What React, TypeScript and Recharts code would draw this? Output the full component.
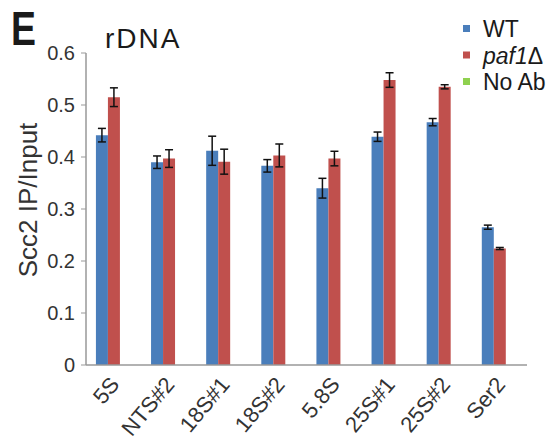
import { Bar, BarChart, ErrorBar, XAxis, YAxis } from "recharts";

const sites = ["5S", "NTS#2", "18S#1", "18S#2", "5.8S", "25S#1", "25S#2", "Ser2"];
const wt = [0.442, 0.39, 0.412, 0.383, 0.34, 0.439, 0.467, 0.265];
const wtErr = [0.013, 0.012, 0.028, 0.012, 0.019, 0.009, 0.007, 0.004];
const paf1 = [0.515, 0.397, 0.391, 0.403, 0.397, 0.548, 0.535, 0.224];
const paf1Err = [0.018, 0.017, 0.024, 0.022, 0.014, 0.014, 0.004, 0.002];
const noAb = [0, 0, 0, 0, 0, 0, 0, 0];
const yTicks = [0, 0.1, 0.2, 0.3, 0.4, 0.5, 0.6];

const data = sites.map((name, i) => ({
  name,
  WT: wt[i],
  wtErr: wtErr[i],
  paf1: paf1[i],
  paf1Err: paf1Err[i],
  noAb: noAb[i],
}));

const BLUE = "#4a7ebb";
const RED = "#c0504d";
const GREEN = "#8fd14f";
const FONT = "'Liberation Sans', Arial, sans-serif";

function SiteTick(props: any) {
  const { x, y, payload } = props;
  return (
    <g transform={`translate(${x + 7},${y + 12}) rotate(-50)`}>
      <text textAnchor="end" fontSize={22} fill="#333" fontFamily={FONT}>
        {payload.value}
      </text>
    </g>
  );
}

function YLabel() {
  return (
    <text
      transform="translate(28,200) rotate(-90)"
      textAnchor="middle"
      dominantBaseline="central"
      fontSize={26}
      fill="#333"
      fontFamily={FONT}
    >
      Scc2 IP/Input
    </text>
  );
}

const legendRows = [
  { color: BLUE, label: <>WT</> },
  { color: RED, label: <><tspan fontStyle="italic">paf1</tspan>Δ</> },
  { color: GREEN, label: <>No Ab</> },
];

export default function App() {
  return (
    <div style={{ position: "absolute", left: 0, top: 0, width: 554, height: 448, background: "#fff" }}>
      <BarChart
        width={554}
        height={448}
        data={data}
        margin={{ top: 53, right: 27, left: 0, bottom: 0 }}
        barCategoryGap="18%"
        barGap={0}
      >
        <XAxis
          dataKey="name"
          height={83}
          tickLine={false}
          axisLine={{ stroke: "#999", strokeWidth: 1.5 }}
          tick={<SiteTick />}
          interval={0}
        />
        <YAxis
          width={86}
          domain={[0, 0.6]}
          ticks={yTicks}
          tickFormatter={(v) => (v === 0 ? "0" : v.toFixed(1))}
          tick={{ fontSize: 20, fill: "#333", fontFamily: FONT, dx: -4 }}
          tickLine={{ stroke: "#999" }}
          tickSize={5}
          axisLine={{ stroke: "#999", strokeWidth: 1.5 }}
          label={<YLabel />}
        />
        <Bar dataKey="WT" fill={BLUE} isAnimationActive={false}>
          <ErrorBar dataKey="wtErr" width={4} stroke="#111" strokeWidth={1.5} />
        </Bar>
        <Bar dataKey="paf1" fill={RED} isAnimationActive={false}>
          <ErrorBar dataKey="paf1Err" width={4} stroke="#111" strokeWidth={1.5} />
        </Bar>
        <Bar dataKey="noAb" fill={GREEN} isAnimationActive={false} />
      </BarChart>
      <svg width={554} height={448} style={{ position: "absolute", left: 0, top: 0, pointerEvents: "none" }}>
        <text
          transform="translate(11,45) scale(0.78,1)"
          fontSize={48}
          fontWeight="bold"
          fill="#1a1a1a"
          fontFamily={FONT}
        >
          E
        </text>
        <text x={105} y={48} fontSize={28} letterSpacing={2} fill="#1a1a1a" fontFamily={FONT}>
          rDNA
        </text>
        {legendRows.map((r, i) => (
          <g key={i}>
            <rect x={463} y={25 + i * 26.5} width={7} height={7} fill={r.color} />
            <text x={483} y={37 + i * 26.5} fontSize={23} fill="#1a1a1a" fontFamily={FONT}>
              {r.label}
            </text>
          </g>
        ))}
      </svg>
    </div>
  );
}
